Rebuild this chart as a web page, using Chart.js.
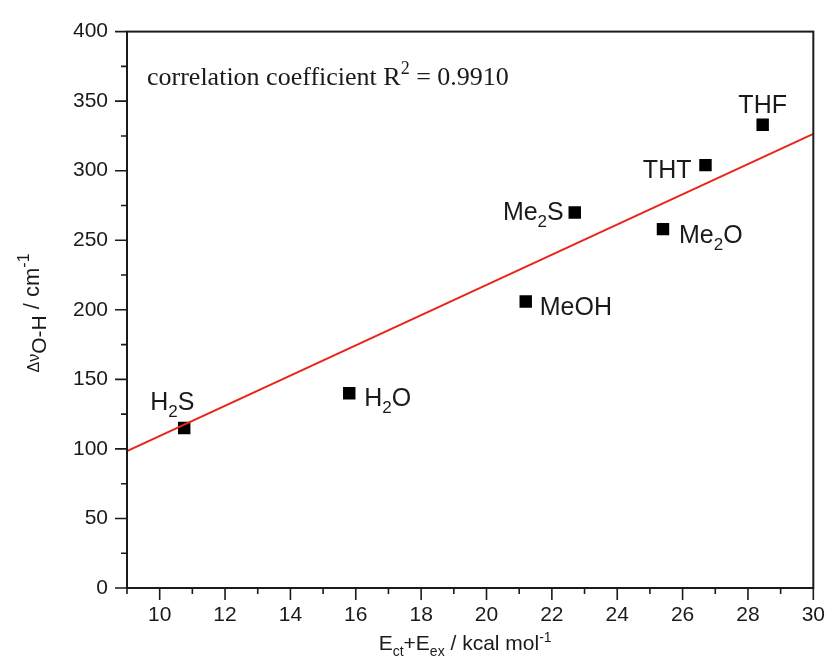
<!DOCTYPE html>
<html>
<head>
<meta charset="utf-8">
<title>O-H shift vs interaction energy</title>
<script src="https://cdn.jsdelivr.net/npm/chart.js@4.4.1/dist/chart.umd.min.js"></script>
<style>
  html, body { margin: 0; padding: 0; background: #fff; }
  #wrap { width: 840px; height: 664px; }
</style>
</head>
<body>
<div id="wrap"><canvas id="chart" width="840" height="664"></canvas></div>
<script>
// ---- data ----
const solvents = ['H2S', 'H2O', 'MeOH', 'Me2S', 'Me2O', 'THT', 'THF'];
const energy   = [10.75, 15.8, 21.2, 22.7, 25.4, 26.7, 28.45];   // Ect + Eex, kcal/mol
const shift    = [115, 140, 206, 270, 258, 304, 333];            // Δν(O-H), cm-1
const fitX     = [9, 30];
const fitY     = [98.5, 326.5];
const xTickValues = [10, 12, 14, 16, 18, 20, 22, 24, 26, 28, 30];
const yTickValues = [0, 50, 100, 150, 200, 250, 300, 350, 400];
const r2Text = '0.9910';

// label placement next to each marker (px from point centre, text baseline)
const labelPlacement = [
  { dx: -34, dy: -18, align: 'left' },
  { dx: 15,  dy: 13,  align: 'left' },
  { dx: 14,  dy: 14,  align: 'left' },
  { dx: -11, dy: 8,   align: 'right' },
  { dx: 16,  dy: 14,  align: 'left' },
  { dx: -14, dy: 13,  align: 'right' },
  { dx: 0,   dy: -12, align: 'center' }
];

const SANS = '"Liberation Sans", Arial, sans-serif';
const SERIF = '"Liberation Serif", "Times New Roman", serif';
const INK = '#1a1a1a';

// split "Me2S" into runs, digits become subscripts
function formulaParts(name) {
  return name.split(/(\d+)/).filter(s => s).map(s => ({ t: s, sub: /^\d+$/.test(s) }));
}

// draw a run of text pieces with sub/superscripts
// a piece may carry its own size (fs) and baseline shift (dy)
function drawRich(ctx, parts, x, y, align, size, family) {
  const sizeOf = p => p.fs || ((p.sub || p.sup) ? Math.round(size * 0.68) : size);
  const measure = p => {
    ctx.font = sizeOf(p) + 'px ' + family;
    return ctx.measureText(p.t).width;
  };
  const total = parts.reduce((s, p) => s + measure(p), 0);
  let cx = x;
  if (align === 'right') cx = x - total;
  else if (align === 'center') cx = x - total / 2;
  ctx.textAlign = 'left';
  ctx.textBaseline = 'alphabetic';
  parts.forEach(p => {
    const w = measure(p);
    let dy = 0;
    if (p.sub) dy = size * 0.28;
    if (p.sup) dy = -size * 0.4;
    if (p.dy !== undefined) dy = p.dy;
    ctx.fillText(p.t, cx, y + dy);
    cx += w;
  });
}

const decorPlugin = {
  id: 'decor',
  afterDatasetsDraw(chart) {
    const { ctx, chartArea: a, scales } = chart;
    const xs = scales.x, ys = scales.y;
    ctx.save();

    // frame
    ctx.strokeStyle = INK;
    ctx.lineWidth = 2;
    ctx.strokeRect(a.left, a.top, a.right - a.left, a.bottom - a.top);

    // outward tick marks, major and minor
    ctx.lineWidth = 1.6;
    ctx.beginPath();
    for (let v = 9; v <= 30; v++) {
      const px = xs.getPixelForValue(v);
      const len = v % 2 === 0 ? 12 : 6;
      ctx.moveTo(px, a.bottom);
      ctx.lineTo(px, a.bottom + len);
    }
    for (let v = 0; v <= 400; v += 25) {
      const py = ys.getPixelForValue(v);
      const len = v % 50 === 0 ? 12 : 6;
      ctx.moveTo(a.left, py);
      ctx.lineTo(a.left - len, py);
    }
    ctx.stroke();

    // solvent labels
    ctx.fillStyle = INK;
    const pts = chart.getDatasetMeta(1).data;
    pts.forEach((pt, i) => {
      const lp = labelPlacement[i];
      drawRich(ctx, formulaParts(solvents[i]), pt.x + lp.dx, pt.y + lp.dy, lp.align, 25, SANS);
    });

    // correlation note
    drawRich(ctx, [
      { t: 'correlation coefficient R' },
      { t: '2', sup: true },
      { t: ' = ' + r2Text }
    ], a.left + 20, a.top + 53, 'left', 26, SERIF);

    // x axis title
    drawRich(ctx, [
      { t: 'E' }, { t: 'ct', sub: true }, { t: '+E' }, { t: 'ex', sub: true },
      { t: ' / kcal mol' }, { t: '-1', sup: true }
    ], (a.left + a.right) / 2 - 5, 650, 'center', 21, SANS);

    // y axis title, rotated
    ctx.translate(39, 313);
    ctx.rotate(-Math.PI / 2);
    drawRich(ctx, [
      { t: 'Δν', fs: 16, dy: 0 },
      { t: 'O-H', fs: 21, dy: 7 },
      { t: ' / cm', fs: 22, dy: 0 },
      { t: '-1', fs: 16, dy: -10 }
    ], 0, 0, 'center', 22, SANS);

    ctx.restore();
  }
};

const fitPoints = fitX.map((x, i) => ({ x: x, y: fitY[i] }));
const solventPoints = energy.map((x, i) => ({ x: x, y: shift[i] }));

new Chart(document.getElementById('chart'), {
  type: 'scatter',
  data: {
    datasets: [
      {
        type: 'line',
        label: 'linear fit',
        data: fitPoints,
        borderColor: '#e8261c',
        borderWidth: 2,
        pointRadius: 0,
        fill: false
      },
      {
        label: 'solvents',
        data: solventPoints,
        pointStyle: 'rect',
        pointRadius: 8.8,
        backgroundColor: '#000',
        borderColor: '#000',
        borderWidth: 0
      }
    ]
  },
  options: {
    responsive: false,
    animation: false,
    layout: { padding: { top: 24, right: 13, left: 0, bottom: 0 } },
    plugins: {
      legend: { display: false },
      tooltip: { enabled: false }
    },
    scales: {
      x: {
        type: 'linear',
        min: 9,
        max: 30,
        afterFit: s => { s.height = 76; },
        afterBuildTicks: s => { s.ticks = xTickValues.map(v => ({ value: v })); },
        grid: { display: false, drawTicks: false },
        border: { display: false },
        ticks: {
          color: INK,
          padding: 15,
          font: { family: SANS, size: 21 }
        }
      },
      y: {
        type: 'linear',
        min: 0,
        max: 400,
        afterFit: s => { s.width = 127; },
        afterBuildTicks: s => { s.ticks = yTickValues.map(v => ({ value: v })); },
        grid: { display: false, drawTicks: false },
        border: { display: false },
        ticks: {
          color: INK,
          padding: 19,
          font: { family: SANS, size: 21 }
        }
      }
    }
  },
  plugins: [decorPlugin]
});
</script>
</body>
</html>
